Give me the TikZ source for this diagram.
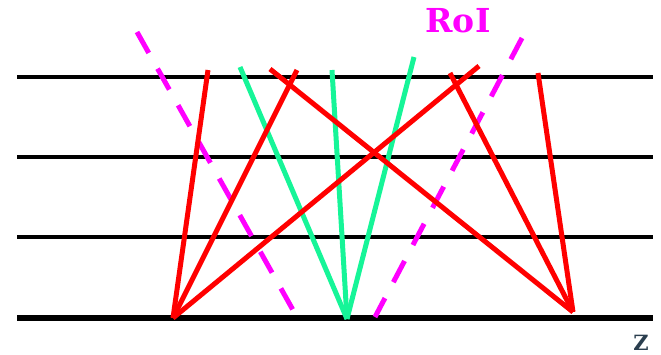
\documentclass[tikz,border=0pt]{standalone}
\usepackage{fontspec}
\newfontfamily\dvserif{DejaVu Serif}
\definecolor{rayred}{RGB}{255,0,0}
\definecolor{raygreen}{RGB}{22,245,152}
\definecolor{roimag}{RGB}{255,0,255}
\definecolor{zcol}{RGB}{42,62,78}
\begin{document}
\begin{tikzpicture}[x=1pt,y=-1pt,
  layer/.style={black,line width=3.5pt},
  baselayer/.style={black,line width=6pt},
  redray/.style={rayred,line width=5pt},
  greenray/.style={raygreen,line width=5pt},
  roiline/.style={roimag,line width=5pt,dash pattern=on 24pt off 18pt}]
\useasboundingbox (0,0) rectangle (661,354);
% layers
\foreach \yy/\nm in {77/l1,157/l2,237/l3}{
  \coordinate (\nm a) at (17,\yy);
  \coordinate (\nm b) at (653,\yy);
  \draw[layer] (\nm a) -- (\nm b);
}
\coordinate (l4a) at (17,318);
\coordinate (l4b) at (653,318);
\draw[baselayer] (l4a) -- (l4b);
% vertices
\coordinate (A) at (173,318);
\coordinate (B) at (573,312);
\coordinate (G) at (347,319);
% red ends
\coordinate (r1) at (208,70);
\coordinate (r2) at (297,70);
\coordinate (r3) at (479,66);
\coordinate (r4) at (270,69);
\coordinate (r5) at (450,73);
\coordinate (r6) at (538,73);
% green ends
\coordinate (g1) at (240,67);
\coordinate (g2) at (332,70);
\coordinate (g3) at (414,57);
% RoI ends
\coordinate (m1a) at (137,32);
\coordinate (m1b) at (293,310);
\coordinate (m2a) at (522,38);
\coordinate (m2b) at (375,317);
% rays
\draw[greenray] (g1) -- (G);
\draw[greenray] (g2) -- (G);
\draw[greenray] (g3) -- (G);
\draw[roiline] (m1a) -- (m1b);
\draw[roiline] (m2a) -- (m2b);
\draw[redray] (A) -- (r1);
\draw[redray] (A) -- (r2);
\draw[redray] (A) -- (r3);
\draw[redray] (B) -- (r4);
\draw[redray] (B) -- (r5);
\draw[redray] (B) -- (r6);
% labels
\node[roimag,font=\dvserif\bfseries\fontsize{33}{33}\selectfont,inner sep=0pt,anchor=base] (roi) at (458,32) {RoI};
\node[zcol,font=\dvserif\bfseries\fontsize{21}{21}\selectfont,inner sep=0pt,anchor=base] (z) at (641,350) {Z};
\end{tikzpicture}
\end{document}
